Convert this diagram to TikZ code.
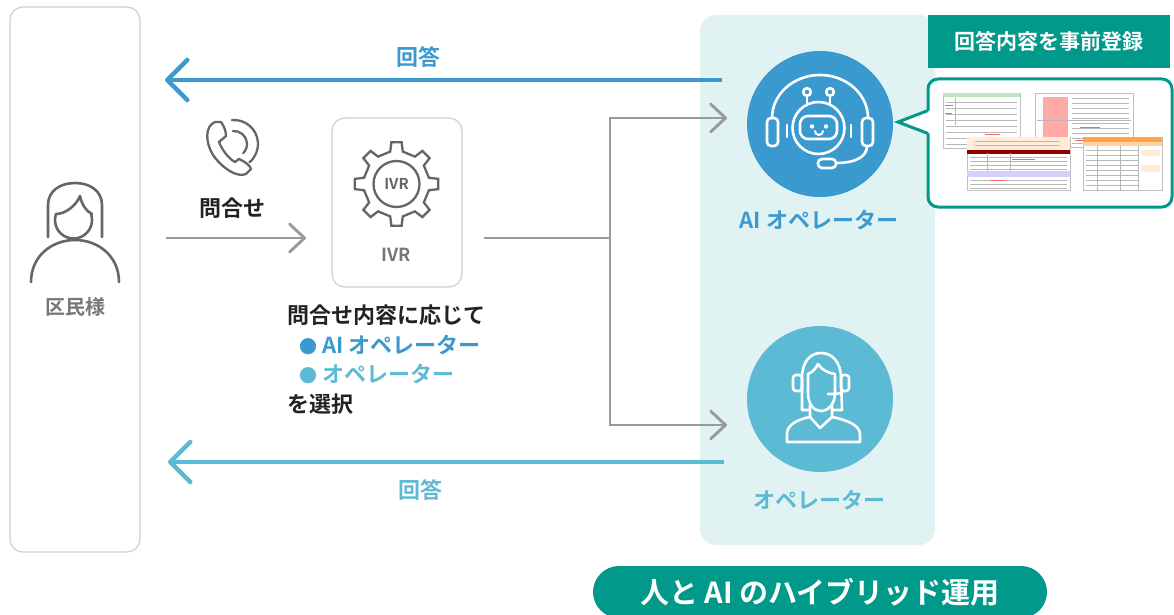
\documentclass[tikz,border=0pt]{standalone}
\usepackage{fontspec}
\setmainfont{Noto Sans CJK JP}[BoldFont={Noto Sans CJK JP Bold}]
\usetikzlibrary{arrows.meta}

\definecolor{aiblue}{HTML}{3A9ACF}
\definecolor{opblue}{HTML}{5CBAD5}
\definecolor{tealmain}{HTML}{00998A}
\definecolor{panelbg}{HTML}{E1F2F3}
\definecolor{flowgray}{HTML}{9A9A9A}
\definecolor{icongray}{HTML}{666666}
\definecolor{labelgray}{HTML}{777777}
\definecolor{boxline}{HTML}{CFCFCF}
\definecolor{inktext}{HTML}{222222}

\newcommand{\dotmark}{{\fontsize{18}{18}\selectfont ●}}

\tikzset{
  lbl/.style={font=\fontsize{#1}{#1}\selectfont\bfseries, inner sep=0pt},
  flowline/.style={draw=flowgray, line width=2.9pt},
  flow/.style={flowline, -{Straight Barb[length=15pt,width=28pt,round]}},
  reply/.style={line width=4.5pt, -{Straight Barb[length=20pt,width=40pt,round]}},
  iconline/.style={line width=2.6pt, line cap=round, line join=round},
  roundbox/.style={draw=boxline, line width=1.2pt, rounded corners=13pt, fill=white, inner sep=0pt},
  doc/.style={draw=black!25, fill=white, line width=0.5pt},
  docrow/.style={draw=black!28, line width=0.45pt},
}

\begin{document}
\begin{tikzpicture}[x=1pt,y=-1pt]
\useasboundingbox (0,0) rectangle (1174,615);
\clip (0,0) rectangle (1174,615);

% ---------- panels ----------
\node[roundbox, minimum width=130pt, minimum height=545pt] (citizen) at (75,279.5) {};
\node[fill=panelbg, rounded corners=16pt, minimum width=235pt, minimum height=530pt, inner sep=0pt] (hybridpanel) at (817.5,280) {};
\node[roundbox, minimum width=130pt, minimum height=169pt] (ivr) at (397,202.5) {};

% ---------- connector end points ----------
\coordinate (replyAIfrom) at (722,80);
\coordinate (replyAIto)   at (165,80);
\coordinate (replyOPfrom) at (724,462);
\coordinate (replyOPto)   at (168,462);
\coordinate (callfrom)    at (166,238);
\coordinate (callto)      at (306,238);
\coordinate (ivrout)      at (484,238);
\coordinate (split)       at (610,238);
\coordinate (toAI)        at (727,118);
\coordinate (toOP)        at (727,425);

% ---------- connectors ----------
\draw[reply, draw=aiblue] (replyAIfrom) -- (replyAIto);
\draw[reply, draw=opblue] (replyOPfrom) -- (replyOPto);
\draw[flow] (callfrom) -- (callto);
\draw[flowline] (ivrout) -- (split);
\draw[flow] (split) |- (toAI);
\draw[flow] (split) |- (toOP);

\node[lbl=22, text=aiblue] (replyAIlabel) at (418,57) {回答};
\node[lbl=22, text=opblue] (replyOPlabel) at (420,490) {回答};

% ---------- citizen ----------
\draw[iconline, draw=icongray]
  (48,237) -- (48,205) .. controls (48,191) and (60,183) .. (75,183)
  .. controls (90,183) and (102,191) .. (102,205) -- (102,237);
\draw[iconline, draw=icongray]
  (56,214) .. controls (65,214) and (76,206) .. (80,196)
  .. controls (82,205) and (86,211) .. (92,214);
\draw[iconline, draw=icongray] (56,214) arc[start angle=161, end angle=379, radius=18.5pt];
\draw[iconline, draw=icongray]
  (31,282) .. controls (31,256) and (52,240) .. (75,240)
  .. controls (98,240) and (119,256) .. (119,282);
\node[lbl=20, text=labelgray] (citizenlabel) at (75,307) {区民様};

% ---------- phone ----------
\draw[iconline, draw=icongray, line width=2.3pt]
  (215,122) .. controls (205,126) and (205,142) .. (213,155)
  .. controls (222,168) and (237,178) .. (246,174) -- (251,169)
  .. controls (251,166) and (244,161) .. (239,159) -- (235,162)
  .. controls (229,159) and (222,150) .. (219,142) -- (226,136)
  .. controls (226,131) and (224,126) .. (221,122) -- cycle;
\draw[iconline, draw=icongray, line width=2.3pt]
  ([shift={(95:13pt)}]234,144) arc[start angle=95, end angle=-45, radius=13pt];
\draw[iconline, draw=icongray, line width=2.3pt]
  ([shift={(95:24pt)}]234,144) arc[start angle=95, end angle=-50, radius=24pt];
\node[lbl=22, text=inktext] (calllabel) at (232,208) {問合せ};

% ---------- IVR gear ----------
\begin{scope}[shift={(396.5,184)}]
  \draw[iconline, draw=icongray, line width=2.3pt, line join=miter] (-11:33pt)
    \foreach \a in {0,45,...,315}{ -- (\a-11:33pt) -- (\a-7:42pt) -- (\a+7:42pt) -- (\a+11:33pt) } -- cycle;
  \draw[iconline, draw=icongray, line width=2.3pt] (0,0) circle[radius=23pt];
\end{scope}
\node[lbl=15, text=icongray] (gearlabel) at (396.5,184) {IVR};
\node[lbl=18, text=labelgray] (ivrlabel) at (396.5,255) {IVR};

% ---------- routing note ----------
\node[lbl=22, text=inktext, anchor=west] (sel1) at (287,315) {問合せ内容に応じて};
\node[lbl=22, text=aiblue, anchor=west] (sel2) at (299,345) {\dotmark\ AI オペレーター};
\node[lbl=22, text=opblue, anchor=west] (sel3) at (299,374) {\dotmark\ オペレーター};
\node[lbl=22, text=inktext, anchor=west] (sel4) at (287,404) {を選択};

% ---------- AI operator ----------
\node[circle, fill=aiblue, minimum size=146pt, inner sep=0pt] (aiop) at (820,124) {};
\begin{scope}[draw=white]
  \draw[iconline] (772,118) arc[start angle=180, end angle=0, x radius=48pt, y radius=43pt];
  \draw[iconline, rounded corners=4pt] (767,118) rectangle (778,146);
  \draw[iconline, rounded corners=4pt] (862,118) rectangle (873,146);
  \draw[iconline] (787,125) -- (787,137);
  \draw[iconline] (851,125) -- (851,137);
  \draw[iconline] (818.5,128) circle[radius=26pt];
  \draw[iconline] (807,92) circle[radius=3.8pt];
  \draw[iconline] (830,92) circle[radius=3.8pt];
  \draw[iconline] (807,96) -- (807,105);
  \draw[iconline] (830,96) -- (830,105);
  \draw[iconline, rounded corners=8pt] (800,116) rectangle (837,139);
  \fill[white] (812,126.5) circle[radius=2.2pt];
  \fill[white] (826,126.5) circle[radius=2.2pt];
  \draw[iconline, line width=2pt] (815,131) arc[start angle=180, end angle=360, radius=4pt];
  \draw[iconline] (867,146) .. controls (867,157) and (855,163) .. (836,163);
  \draw[iconline, rounded corners=4pt] (818,159) rectangle (836,168);
\end{scope}
\node[lbl=22, text=aiblue] (aioplabel) at (819,220) {AI オペレーター};

% ---------- human operator ----------
\node[circle, fill=opblue, minimum size=146pt, inner sep=0pt] (humanop) at (820,399) {};
\begin{scope}[draw=white]
  % hair
  \draw[iconline] (810,410) -- (802,410) -- (802,378)
    .. controls (802,362) and (810,353) .. (821,353)
    .. controls (832,353) and (841,362) .. (841,378) -- (842,410) -- (832,410);
  % bangs and face
  \draw[iconline] (808,374) .. controls (813,372) and (816,368) .. (818,364)
    .. controls (822,370) and (828,373) .. (835,374);
  \draw[iconline] (808,374) -- (808,393) .. controls (808,404) and (814,411) .. (821,411)
    .. controls (828,411) and (835,404) .. (835,393) -- (835,376);
  % headset
  \draw[iconline, rounded corners=3pt] (793,375) rectangle (802,391);
  \draw[iconline, rounded corners=3pt] (841,375) rectangle (849,391);
  \draw[iconline] (843,391) .. controls (841,394) and (836,394) .. (828,394);
  % neck, collar, body
  \draw[iconline] (810,405) -- (810,417) -- (820,428) -- (832,417) -- (832,405);
  \draw[iconline] (810,417) .. controls (795,420) and (787,426) .. (787,434) -- (787,442)
    -- (860,442) -- (860,434) .. controls (860,426) and (848,420) .. (832,417);
\end{scope}
\node[lbl=22, text=opblue] (humanoplabel) at (819,500) {オペレーター};

% ---------- registered answers ----------
\node[fill=tealmain, minimum width=242pt, minimum height=53pt, inner sep=0pt, lbl=21, text=white] (prereg) at (1049,41.5) {回答内容を事前登録};
\node[draw=tealmain, line width=3pt, fill=white, rounded corners=10pt, minimum width=244pt, minimum height=128pt, inner sep=0pt] (answers) at (1050,143) {};
\fill[white] (931,110) -- (897,122) -- (931,134) -- cycle;
\draw[draw=tealmain, line width=3pt, line join=miter] (928,110.5) -- (898,122) -- (928,133.5);

% sheet 1 (back left)
\draw[doc] (943,93) rectangle (1020,148);
\fill[green!55!black!25] (943,93) rectangle (1020,97.5);
\foreach \y in {102,108,...,144} \draw[docrow] (946,\y) -- (1017,\y);
\draw[docrow] (955,98) -- (955,125);
\draw[red!60, line width=0.6pt] (945,105) -- (953,105) (945,113) -- (952,113) (985,134) -- (1000,134);
% sheet 2 (back right)
\draw[doc] (1035,93) rectangle (1133,147);
\fill[red!45!white!75] (1043,97) rectangle (1068,146);
\foreach \y in {98,103,...,143} \draw[docrow] (1072,\y) -- (1129,\y);
\draw[docrow] (1037,120) -- (1131,120);
\draw[red!60, line width=0.6pt] (1080,127) -- (1100,127) (1075,140) -- (1090,140);
% sheet 3 (front left)
\draw[doc] (967,137) rectangle (1070,190);
\fill[orange!15] (967.3,137.3) rectangle (1069.7,150);
\fill[red!55!black] (967,150) rectangle (1070,153.5);
\fill[blue!18] (967.3,171) rectangle (1069.7,176.5);
\foreach \y in {141,145} \draw[docrow] (975,\y) -- (1060,\y);
\foreach \y in {157,161,...,169} \draw[docrow] (970,\y) -- (1067,\y);
\foreach \y in {180,184,188} \draw[docrow] (970,\y) -- (1067,\y);
\draw[docrow] (987,153) -- (987,171) (1010,153) -- (1010,171);
\draw[red!60, line width=0.6pt] (1012,159) -- (1035,159) (990,180) -- (1005,180);
% sheet 4 (front right)
\draw[doc] (1083,137) rectangle (1162,190);
\fill[orange!70] (1083.3,137.3) rectangle (1161.7,141.5);
\fill[orange!35] (1083.3,141.5) rectangle (1161.7,146);
\fill[orange!15] (1141,150) rectangle (1160,156) (1141,165) rectangle (1160,172);
\foreach \y in {150,155,...,188} \draw[docrow] (1086,\y) -- (1138,\y);
\draw[docrow] (1097,146) -- (1097,190) (1120,146) -- (1120,190) (1138,146) -- (1138,190);

% ---------- footer ----------
\node[fill=tealmain, rounded corners=26pt, minimum width=454pt, minimum height=52pt, inner sep=0pt, lbl=29, text=white] (hybrid) at (820,592) {人と AI のハイブリッド運用};

\end{tikzpicture}
\end{document}
